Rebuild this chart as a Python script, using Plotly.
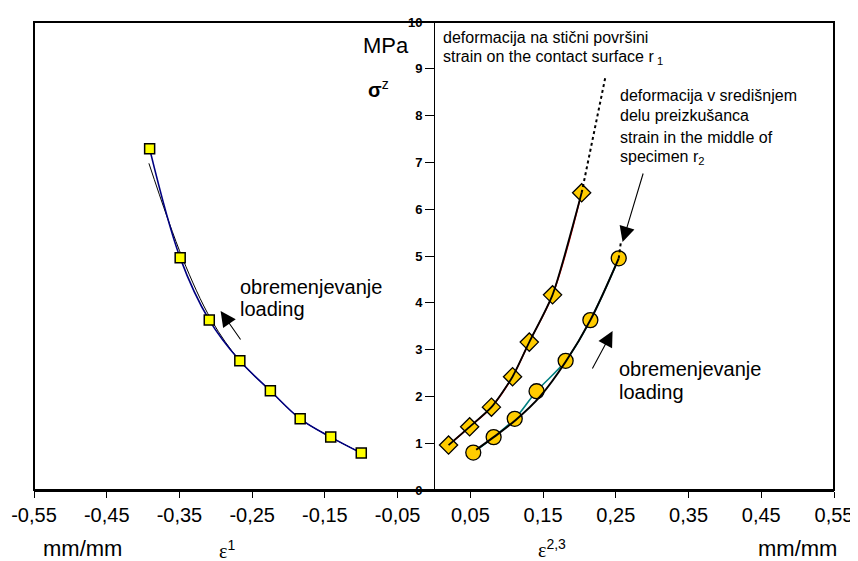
import plotly.graph_objects as go

# ---- data ----
sq_x = [-0.391, -0.349, -0.309, -0.267, -0.225, -0.184, -0.142, -0.100]
sq_y = [7.29, 4.96, 3.63, 2.76, 2.12, 1.52, 1.13, 0.79]

left_trend_x = [-0.392, -0.346, -0.306, -0.267, -0.225, -0.184, -0.142, -0.100]
left_trend_y = [6.98, 4.96, 3.63, 2.76, 2.12, 1.52, 1.13, 0.79]

dia_x = [0.020, 0.049, 0.079, 0.108, 0.131, 0.163, 0.203]
dia_y = [0.96, 1.35, 1.77, 2.42, 3.16, 4.17, 6.35]
dia_ext_x = [0.203, 0.236]
dia_ext_y = [6.35, 8.85]

circ_x = [0.054, 0.082, 0.111, 0.141, 0.181, 0.215, 0.254]
circ_y = [0.80, 1.13, 1.52, 2.11, 2.76, 3.63, 4.95]
circ_trend_x = [0.058, 0.082, 0.112, 0.146, 0.181, 0.215, 0.254]
circ_trend_y = [0.86, 1.13, 1.49, 2.00, 2.74, 3.63, 4.95]
circ_ext_x = [0.254, 0.257]
circ_ext_y = [4.95, 5.30]

x_tickvals = [-0.55, -0.45, -0.35, -0.25, -0.15, -0.05, 0.05, 0.15, 0.25, 0.35, 0.45, 0.55]
x_ticktext = ["-0,55", "-0,45", "-0,35", "-0,25", "-0,15", "-0,05",
              "0,05", "0,15", "0,25", "0,35", "0,45", "0,55"]
y_tickvals = [0, 1, 2, 3, 4, 5, 6, 7, 8, 9, 10]
y_ticktext = [str(v) for v in y_tickvals]

SANS = "Liberation Sans, Arial, sans-serif"
SERIF = "Liberation Serif, Times New Roman, serif"

fig = go.Figure()

# left series (compression strain)
fig.add_trace(go.Scatter(x=left_trend_x, y=left_trend_y, mode="lines",
                         line=dict(color="black", width=1, shape="spline"),
                         hoverinfo="skip"))
fig.add_trace(go.Scatter(x=sq_x, y=sq_y, mode="lines+markers",
                         line=dict(color="#000080", width=1.6, shape="spline"),
                         marker=dict(symbol="square", size=10, color="#FFFF00",
                                     line=dict(color="black", width=1.5))))

# right series: contact surface (diamonds)
fig.add_trace(go.Scatter(x=dia_x, y=dia_y, mode="lines+markers",
                         line=dict(color="#C00000", width=1.5, shape="spline"),
                         marker=dict(symbol="diamond", size=14, color="#FFCC00",
                                     line=dict(color="black", width=1.3))))
# right series: middle of specimen (circles)
fig.add_trace(go.Scatter(x=circ_x, y=circ_y, mode="lines+markers",
                         line=dict(color="#008080", width=1.6, shape="spline"),
                         marker=dict(symbol="circle", size=15, color="#FFCC00",
                                     line=dict(color="black", width=1.3))))

# trend lines on top
fig.add_trace(go.Scatter(x=dia_x, y=dia_y, mode="lines",
                         line=dict(color="black", width=1.8, shape="spline", smoothing=0.6),
                         hoverinfo="skip"))
fig.add_trace(go.Scatter(x=dia_ext_x, y=dia_ext_y, mode="lines",
                         line=dict(color="black", width=2, dash="dot"),
                         hoverinfo="skip"))
fig.add_trace(go.Scatter(x=circ_trend_x, y=circ_trend_y, mode="lines",
                         line=dict(color="black", width=2, shape="spline"),
                         hoverinfo="skip"))
fig.add_trace(go.Scatter(x=circ_ext_x, y=circ_ext_y, mode="lines",
                         line=dict(color="black", width=2, dash="dot"),
                         hoverinfo="skip"))

# the page body has an 8px margin, so the figure is offset by 8px
fig.update_layout(
    width=850, height=553,
    margin=dict(l=26, r=24, t=14, b=71, autoexpand=False),
    paper_bgcolor="white", plot_bgcolor="white",
    showlegend=False,
    font=dict(family=SANS, color="black"),
    xaxis=dict(range=[-0.55, 0.55], tickvals=x_tickvals, ticktext=x_ticktext,
               ticks="outside", ticklen=6, tickwidth=1, tickcolor="black",
               showline=True, linecolor="black", linewidth=2,
               showgrid=False, zeroline=False, automargin=False,
               tickfont=dict(size=20, family=SANS, color="black")),
    yaxis=dict(range=[0, 10], tickvals=y_tickvals, ticktext=y_ticktext,
               anchor="free", position=0.5, automargin=False,
               ticks="outside", ticklen=9, tickwidth=1, tickcolor="black",
               showline=True, linecolor="black", linewidth=1,
               showgrid=False, zeroline=False,
               tickfont=dict(size=13, family=SANS, color="black", weight="bold")),
)

# frame
fig.add_shape(type="rect", xref="paper", yref="paper", x0=0, y0=0, x1=1, y1=1,
              line=dict(color="black", width=2), layer="above")

# positions given in window pixels; plot area spans x 34..834, y 22..490
def px2p(px):
    return (px - 34) / 800

def py2p(py):
    return (490 - py) / 468

def px2x(px):
    return (px - 434.4) / 727.3

def py2y(py):
    return (490 - py) / 46.8

def text(px, py, s, size=16, xanchor="left", family=SANS):
    fig.add_annotation(x=px2p(px), y=py2p(py), xref="paper", yref="paper", text=s,
                       showarrow=False, xanchor=xanchor, yanchor="middle",
                       font=dict(size=size, family=family, color="black"),
                       align="left")

# axis unit labels
text(386, 45, "MPa", size=22, xanchor="center")
text(378, 88, "<b>σ</b><sup>z</sup>", size=20, xanchor="center")

# annotations
text(441, 37, "deformacija na stični površini", size=16)
text(441, 58, "strain on the contact surface r<sub> 1</sub>", size=16)
text(618, 95, "deformacija v središnjem", size=16)
text(618, 116, "delu preizkušanca", size=16)
text(618, 137, "strain in the middle of", size=16)
text(618, 158, "specimen r<sub>2</sub>", size=16)

text(238, 287, "obremenjevanje", size=20)
text(238, 309, "loading", size=20)
text(617, 369, "obremenjevanje", size=20)
text(617, 392, "loading", size=20)

# arrows
def arrow(tx, ty, hx, hy):
    fig.add_annotation(x=px2x(hx), y=py2y(hy), ax=px2x(tx), ay=py2y(ty),
                       xref="x", yref="y", axref="x", ayref="y", text="",
                       showarrow=True, arrowhead=2, arrowsize=2.8,
                       arrowwidth=1.1, arrowcolor="black")

arrow(242, 341, 221, 311)
arrow(592, 370, 613, 331)
arrow(644, 172, 623, 242)

# bottom labels
sup_style = "font-family:Liberation Sans, Arial, sans-serif"
text(82, 548, "mm/mm", size=22, xanchor="center")
text(227, 549, f"ε<sup><span style='{sup_style}'>1</span></sup>", size=20,
     xanchor="center", family=SERIF)
text(552, 548, f"ε<sup><span style='{sup_style}'>2,3</span></sup>", size=20,
     xanchor="center", family=SERIF)
text(797, 548, "mm/mm", size=22, xanchor="center")

fig.write_html("out.html")
